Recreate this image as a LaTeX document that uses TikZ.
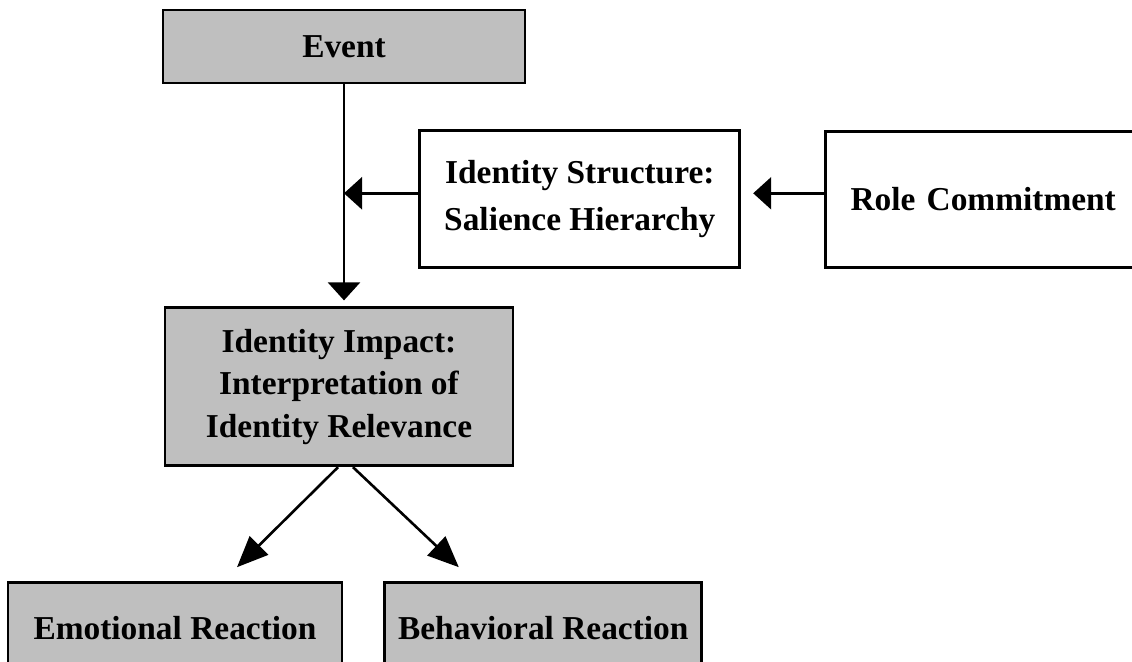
\documentclass[tikz,border=0pt]{standalone}
\usepackage{fontspec}
\setmainfont{Liberation Serif}
\usetikzlibrary{positioning,arrows.meta}

\begin{document}
\begin{tikzpicture}[x=0.5pt,y=0.5pt,
    box/.style={draw,line width=1.4pt,align=center,
      font=\fontsize{16.7pt}{21.3pt}\selectfont\bfseries},
    shbox/.style={box,fill=black!25},
    arr/.style={line width=1.3pt,-{Triangle[length=9pt,width=16pt]}},
    darr/.style={line width=1.3pt,-{Triangle[length=15.5pt,width=13pt]}}]
  \useasboundingbox (0,0) rectangle (1132,662);
  \clip (0,0) rectangle (1132,662);

  \node [shbox,minimum width=181pt,minimum height=36.5pt] (ev) at (344,615.5) {Event};
  \node [box,minimum width=160pt,minimum height=68.5pt,
    font=\fontsize{16.7pt}{23.5pt}\selectfont\bfseries,
    below right=22.5pt and -54pt of ev] (st) {Identity Structure:\\Salience Hierarchy};
  \node [box,text width=170pt,align=left,inner xsep=12.5pt,minimum height=68pt,
    right=41.5pt of st] (rc) {Role Commitment};
  \node [shbox,minimum width=174pt,minimum height=79pt,below=111pt of ev,xshift=-2.5pt] (im)
    {Identity Impact:\\Interpretation of\\Identity Relevance};
  \node [shbox,minimum width=167pt,inner ysep=4pt,text height=24.5pt,text depth=40pt,
    below=57pt of im,xshift=-82pt] (em) {Emotional Reaction};
  \node [shbox,minimum width=158.5pt,inner ysep=4pt,text height=24.5pt,text depth=40pt,
    right=20pt of em] (be) {Behavioral Reaction};

  \coordinate[yshift=3pt] (j) at (ev.south |- st.west);

  \draw[arr,shorten >=3pt] (ev.south) -- (ev.south |- im.north);
  \draw[arr] ([yshift=3pt]st.west) -- (j);
  \draw[arr,shorten >=6pt] ([yshift=3pt]rc.west) -- ([yshift=3pt]st.east);
  \draw[darr] ([xshift=-0.5pt]im.south) -- ([xshift=31pt,yshift=7pt]em.north);
  \draw[darr] ([xshift=7pt]im.south) -- ([xshift=-42.25pt,yshift=7pt]be.north);
\end{tikzpicture}
\end{document}
